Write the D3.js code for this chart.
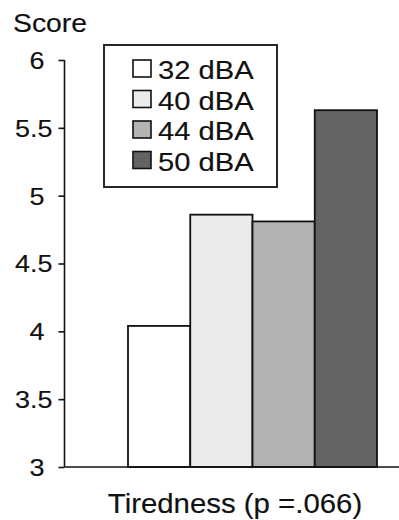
<!DOCTYPE html>
<html>
<head>
<meta charset="utf-8">
<script src="https://cdn.jsdelivr.net/npm/d3@7"></script>
<style>
  html, body { margin: 0; padding: 0; background: #fff; }
  text { font-family: "Liberation Sans", Arial, Helvetica, sans-serif; fill: #111; stroke: #111; stroke-width: 0.15px; }
</style>
</head>
<body>
<svg id="chart" width="399" height="520"></svg>
<script>
// Mean tiredness score by noise level
const seriesNames = ["32 dBA", "40 dBA", "44 dBA", "50 dBA"];
const seriesValues = [4.04, 4.86, 4.81, 5.63];
const seriesColors = ["#ffffff", "#ebebeb", "#b3b3b3", "#636363"];
const yTicks = [3, 3.5, 4, 4.5, 5, 5.5, 6];
const yTickLabels = ["3", "3.5", "4", "4.5", "5", "5.5", "6"];
const categoryLabel = "Tiredness (p =.066)";
const yAxisTitle = "Score";

const svg = d3.select("#chart");

const y = d3.scaleLinear().domain([3, 6]).range([467, 60]);
const x = d3.scaleBand().domain(seriesNames).range([128, 377]).padding(0);
const axisX = 64.5;

// Bars
svg.append("g")
  .selectAll("rect")
  .data(seriesNames)
  .join("rect")
  .attr("x", d => x(d))
  .attr("y", (d, i) => y(seriesValues[i]))
  .attr("width", x.bandwidth())
  .attr("height", (d, i) => y(3) - y(seriesValues[i]))
  .attr("fill", (d, i) => seriesColors[i])
  .attr("stroke", "#111")
  .attr("stroke-width", 1.8);

// Y axis
const yAxis = d3.axisLeft(y)
  .tickValues(yTicks)
  .tickSize(6)
  .tickPadding(0)
  .tickFormat((d, i) => yTickLabels[i]);

const gy = svg.append("g")
  .attr("transform", `translate(${axisX},0)`)
  .call(yAxis);
gy.select(".domain").attr("stroke", "#111").attr("stroke-width", 1.6)
  .attr("d", `M0,${y(6)}V${y(3)}`);
gy.selectAll(".tick line").attr("stroke", "#111").attr("stroke-width", 1.6);
gy.selectAll(".tick text")
  .attr("font-size", 24.5)
  .attr("font-family", "'Liberation Sans', Arial, sans-serif")
  .attr("fill", "#111")
  .attr("text-anchor", "end")
  .attr("x", null)
  .attr("dy", "0.34em")
  .attr("transform", d => `translate(${Number.isInteger(d) ? -20 : -12},0) scale(1.1,1)`);

// X baseline
svg.append("line")
  .attr("x1", axisX).attr("x2", 399)
  .attr("y1", y(3)).attr("y2", y(3))
  .attr("stroke", "#111").attr("stroke-width", 1.6);

// Axis titles
svg.append("text")
  .attr("transform", "translate(13,32) scale(1.07,1)")
  .attr("font-size", 26.5)
  .text(yAxisTitle);

svg.append("text")
  .attr("transform", "translate(235,513) scale(1.05,1)")
  .attr("text-anchor", "middle")
  .attr("font-size", 28)
  .text(categoryLabel);

// Legend
const legend = svg.append("g");
legend.append("rect")
  .attr("x", 104).attr("y", 45)
  .attr("width", 173).attr("height", 142)
  .attr("fill", "#fff")
  .attr("stroke", "#111").attr("stroke-width", 1.8);

const items = legend.selectAll("g.item")
  .data(seriesNames)
  .join("g")
  .attr("class", "item")
  .attr("transform", (d, i) => `translate(0,${i * 30.5})`);

items.append("rect")
  .attr("x", 133).attr("y", 60)
  .attr("width", 18).attr("height", 17)
  .attr("fill", (d, i) => seriesColors[i])
  .attr("stroke", "#111").attr("stroke-width", 1.6);

items.append("text")
  .attr("transform", "translate(158,79) scale(1.1,1)")
  .attr("font-size", 26.5)
  .text(d => d);
</script>
</body>
</html>
